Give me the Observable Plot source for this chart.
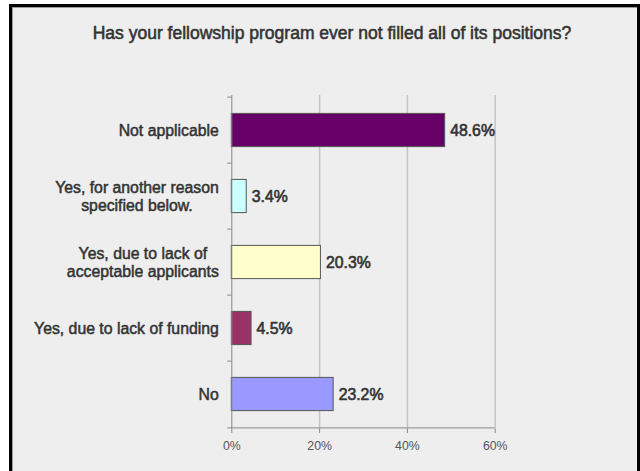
<!DOCTYPE html>
<html>
<head>
<meta charset="utf-8">
<script src="https://cdn.jsdelivr.net/npm/d3@7"></script>
<script src="https://cdn.jsdelivr.net/npm/@observablehq/plot@0.6"></script>
<style>
  html, body { margin: 0; padding: 0; background: #ffffff; overflow: hidden; }
  #frame { position: absolute; left: 9px; top: 4px; width: 625px; height: 480px;
           border: 3px solid #000; border-bottom: none; background: #eeeeee;
           box-shadow: inset 1px 1px 0 #9a9a9a; }
  #title { position: absolute; left: 24px; width: 616px; top: 22px; height: 22px; line-height: 22px;
           text-align: center; font-family: "Liberation Sans", Arial, sans-serif; font-weight: normal;
           font-size: 17.5px; color: #333333; -webkit-text-stroke: 0.55px #333333; }
  #chart { position: absolute; left: 12px; top: 65px; }
</style>
</head>
<body>
<div id="frame"></div>
<div id="title">Has your fellowship program ever not filled all of its positions?</div>
<div id="chart"></div>
<script>
const categories = [
  "Not applicable",
  "Yes, for another reason\nspecified below.",
  "Yes, due to lack of\nacceptable applicants",
  "Yes, due to lack of funding",
  "No"
];
const values = [48.6, 3.4, 20.3, 4.5, 23.2];
const colors = ["#660066", "#ccffff", "#ffffcc", "#993366", "#9999ff"];
const xTicks = [0, 20, 40, 60];

const data = categories.map((c, i) => ({category: c, value: values[i]}));
const font = "Liberation Sans, Arial, sans-serif";

const plot = Plot.plot({
  width: 625,
  height: 406,
  marginLeft: 219.3,
  marginRight: 142.3,
  marginTop: 30,
  marginBottom: 42,
  style: {background: "transparent", fontFamily: font, overflow: "visible"},
  x: {domain: [0, 60], axis: null},
  y: {domain: categories, padding: 0, axis: null},
  color: {domain: categories, range: colors},
  marks: [
    Plot.gridX({ticks: xTicks.slice(1), stroke: "#c4c4c4", strokeOpacity: 1, strokeWidth: 1.5}),
    Plot.barX(data, {x: "value", y: "category", fill: "category", stroke: "#555555", strokeWidth: 1,
                     insetTop: 16.4, insetBottom: 16.4}),
    Plot.ruleX([0], {stroke: "#888888"}),
    Plot.ruleY(categories.slice(-1), {dy: 33.4, stroke: "#888888"}),
    Plot.axisY(categories, {tickSize: 4, dy: -33.4, tickFormat: () => "", stroke: "#888888", label: null}),
    Plot.axisY(categories.slice(-1), {tickSize: 4, dy: 33.4, tickFormat: () => "", stroke: "#888888", label: null}),
    Plot.axisX({ticks: xTicks, tickSize: 4, tickPadding: 8, tickFormat: d => d + "%", stroke: "#888888",
                fill: "#555555", fontSize: 12.3, label: null}),
    Plot.text(data, {y: "category", text: "category", frameAnchor: "left", textAnchor: "end", dx: -13,
                     lineHeight: 1.08, fontSize: 15.8, fill: "#333333", stroke: "#333333", strokeWidth: 0.5,
                     className: "catlabel"}),
    Plot.text(data, {x: "value", y: "category", text: d => d.value.toFixed(1) + "%", textAnchor: "start", dx: 5,
                     fontSize: 15.8, fill: "#333333", stroke: "#333333", strokeWidth: 0.6})
  ]
});
document.getElementById("chart").appendChild(plot);

// center multi-line category labels on their block, keeping the block right-aligned
plot.querySelectorAll(".catlabel text").forEach(t => {
  const spans = t.querySelectorAll("tspan");
  if (spans.length > 1) {
    let w = 0;
    spans.forEach(s => { w = Math.max(w, s.getComputedTextLength()); });
    t.setAttribute("text-anchor", "middle");
    const tr = t.getAttribute("transform") || "";
    t.setAttribute("transform", tr + ` translate(${-w / 2},0)`);
  }
});
</script>
</body>
</html>
